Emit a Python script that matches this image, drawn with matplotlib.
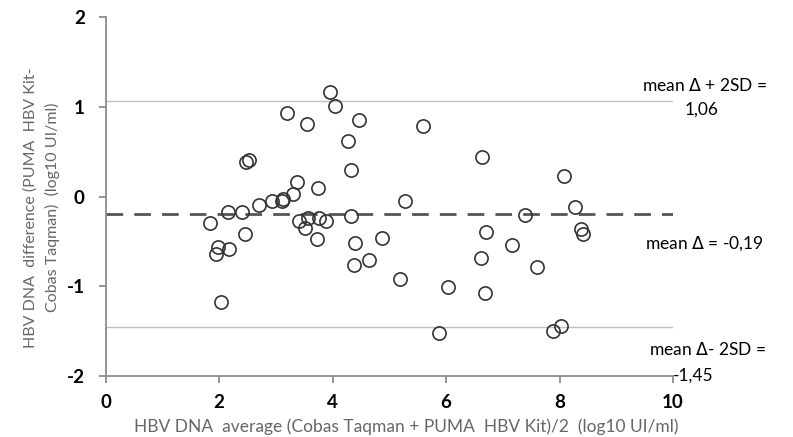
import matplotlib.pyplot as plt
import numpy as np

plt.rcParams['font.family'] = ['Lato', 'DejaVu Sans']
plt.rcParams['axes.unicode_minus'] = False

# Bland-Altman data
avg = [3.96, 4.04, 3.19, 3.54, 4.46, 4.27, 4.33, 2.48, 2.53, 3.37,
       3.75, 3.30, 3.13, 3.10, 2.94, 2.71, 2.40, 2.15, 1.83, 3.41,
       3.57, 3.52, 3.76, 3.88, 3.73, 4.33, 4.39, 4.37, 4.64, 4.87,
       5.19, 2.45, 1.98, 1.95, 2.18, 2.04, 5.28, 7.39, 8.28, 8.38,
       8.42, 6.71, 7.16, 6.61, 7.61, 6.03, 6.68, 5.88, 7.88, 8.03,
       5.59, 6.64, 8.08]
diff = [1.16, 1.005, 0.93, 0.81, 0.85, 0.62, 0.30, 0.38, 0.41, 0.16,
        0.09, 0.03, -0.03, -0.045, -0.05, -0.10, -0.17, -0.17, -0.29, -0.275,
        -0.24, -0.35, -0.24, -0.275, -0.47, -0.22, -0.52, -0.76, -0.71, -0.46,
        -0.92, -0.42, -0.56, -0.64, -0.59, -1.17, -0.055, -0.21, -0.12, -0.36,
        -0.415, -0.40, -0.54, -0.69, -0.79, -1.01, -1.08, -1.52, -1.50, -1.44,
        0.79, 0.445, 0.234]

mean_d = -0.19
upper = 1.06
lower = -1.45

fig = plt.figure(figsize=(7.93, 4.37), dpi=100)
ax = fig.add_axes([0.1333, 0.1396, 0.7154, 0.8214])

ax.plot([0, 10], [upper, upper], color='#c0c0c0', lw=1.0)
ax.plot([0, 10], [lower, lower], color='#c0c0c0', lw=1.0)
ax.plot([0, 10], [mean_d, mean_d], color='#555555', lw=2.0, dashes=(6, 4))

ax.plot(avg, diff, 'o', ms=9.5, mfc='none', mec='#333333', mew=1.2, clip_on=False)

ax.set_xlim(0, 10)
ax.set_ylim(-2, 2)
ax.set_xticks([0, 2, 4, 6, 8, 10])
ax.set_yticks([-2, -1, 0, 1, 2])
for s in ['top', 'right']:
    ax.spines[s].set_visible(False)
for s in ['left', 'bottom']:
    ax.spines[s].set_color('#8c8c8c')
    ax.spines[s].set_linewidth(1.3)
ax.tick_params(axis='both', colors='#8c8c8c', length=5, width=1.3, direction='out')
ax.tick_params(axis='x', pad=8, labelcolor='black', labelsize=13.5)
ax.tick_params(axis='y', pad=10, labelcolor='black', labelsize=13.5)
for lab in ax.get_xticklabels() + ax.get_yticklabels():
    lab.set_fontweight('bold')

ax.set_xlabel('HBV DNA  average (Cobas Taqman + PUMA  HBV Kit)/2  (log10 UI/ml)',
              fontsize=12.5, color='#666666')
ax.xaxis.set_label_coords(0.53, -0.117)
ax.set_ylabel('HBV DNA  difference (PUMA  HBV Kit-\nCobas Taqman)  (log10 UI/ml)',
              fontsize=11.5, color='#666666', linespacing=1.6)
ax.yaxis.set_label_coords(-0.08, 0.47)

ax.text(10.55, upper + 0.18, 'mean $\\Delta$ + 2SD =', fontsize=12.5, ha='center', va='center')
ax.text(10.5, upper - 0.09, '1,06', fontsize=12.5, ha='center', va='center')
ax.text(10.55, mean_d - 0.34, 'mean $\\Delta$ = -0,19', fontsize=12.5, ha='center', va='center')
ax.text(10.6, lower - 0.26, 'mean $\\Delta$- 2SD =', fontsize=12.5, ha='center', va='center')
ax.text(10.35, lower - 0.55, '-1,45', fontsize=12.5, ha='center', va='center')

plt.savefig('out.png', dpi=100)
